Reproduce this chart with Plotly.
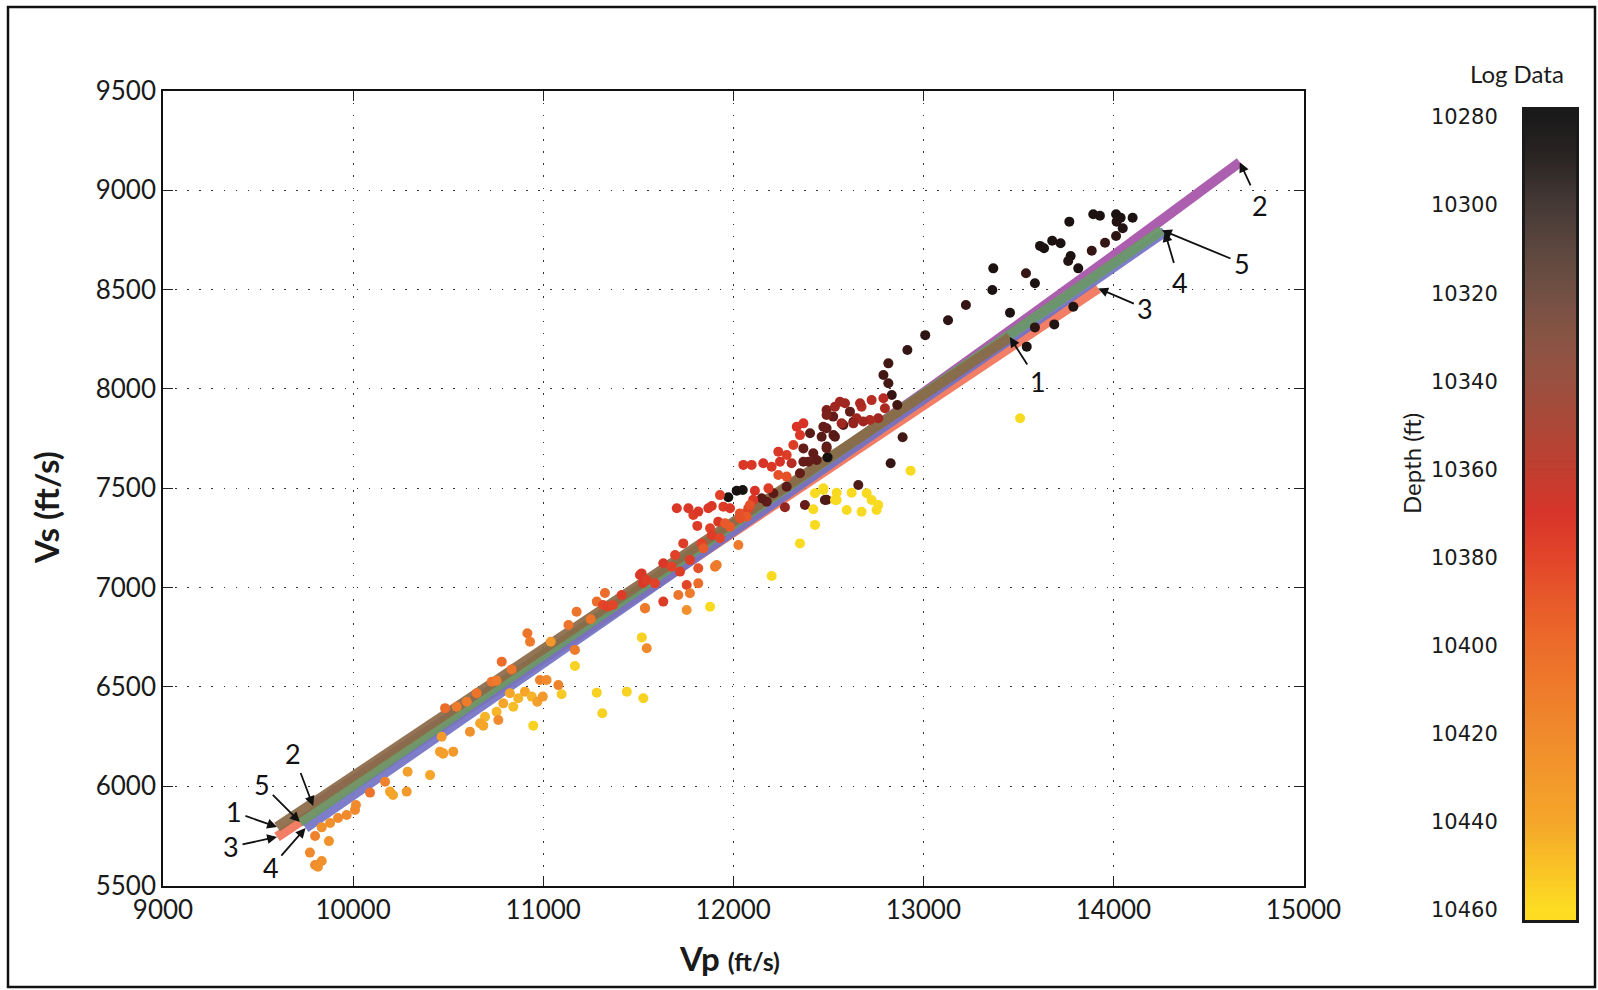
import numpy as np
import plotly.graph_objects as go

W, H = 1598, 990

# ---------------- data ----------------
vp_pts = [10484, 10466, 10457, 10473, 10527, 10405, 10287, 10282, 10210, 10194, 10168, 10089, 10015, 10010, 9966, 9921,
          9879, 9835, 9800, 9873, 9773, 9835, 9800, 9815,
          11509, 11525, 11413, 11325, 11282, 11315, 11341, 11367, 11176, 11250, 11133, 11536, 11545, 11519, 10917, 10931,
          11040, 11167, 11167, 10782, 10834, 10729, 10755, 10983, 11018, 11080, 11097, 11282, 11440, 11527, 11311, 10948,
          10825, 10869, 10904, 10940, 10969, 10998, 10790, 10843, 10755, 10764, 10694, 10668, 10685, 10615, 10650, 10598,
          10545, 10475,
          12334, 12369, 12351, 12404, 12465, 12474, 12527, 12579, 12632, 12316, 12281, 12237, 12369, 12421, 12395, 12439,
          12369, 12491, 12496, 12246, 12307, 12351, 12053, 12097, 12158, 12202, 12237, 12281, 12281, 12211, 12176, 12150,
          12185, 11974, 12018, 12050, 12114, 12105, 11930, 11887, 11948, 11983, 12035, 12079, 11703, 11764, 11790, 11816,
          11869, 11811, 11878, 11921, 11887, 11930, 11957, 11983, 12088, 12070, 12035, 12272, 12377, 12491, 12658, 12430,
          12474, 12544, 12623, 12544, 12597, 12421, 12430, 12351, 12202, 11878, 11737, 11834, 11843, 11904, 11913, 12027,
          11694, 11632, 11676, 11772, 11816, 11720, 11755, 11816, 11518, 11544, 11588, 11632, 11711, 11772, 11755, 11536,
          12916, 12816, 12790, 12816, 12834, 12863, 13544, 13509, 12491, 12535, 12561, 12588, 12614, 12649, 12675, 12667,
          12728, 12790, 12798, 12763, 12719, 12684, 12632, 12570, 12526, 12491, 12491, 12535, 12491, 12474, 12482, 12891,
          12828, 12933, 12535, 12702, 12728, 12763, 12754, 12675,
          13768, 13894, 13929, 14014, 14038, 14017, 14049, 14101, 14014, 13956, 13886, 13678, 13722, 13614, 13635, 13775,
          13762, 13815, 13368, 13363, 13540, 13587, 13224, 13456, 13789, 13689, 13587, 13010, 13130]

vs_pts = [6393, 6249, 6174, 6164, 6174, 6056, 6073, 5973, 5956, 5973, 6023, 5968, 5906, 5881, 5855, 5840,
          5815, 5793, 5750, 5724, 5666, 5624, 5604, 5595,
          7063, 7023, 6962, 6972, 6929, 6912, 6904, 6912, 6878, 6840, 6811, 6897, 6694, 6749, 6770, 6727,
          6727, 6686, 6605, 6627, 6588, 6526, 6531, 6535, 6535, 6509, 6463, 6471, 6476, 6443, 6367, 6305,
          6468, 6443, 6476, 6451, 6425, 6451, 6417, 6400, 6375, 6333, 6350, 6317, 6305, 6274, 6468, 6425,
          6400, 6166,
          7809, 7826, 7767, 7776, 7759, 7809, 7767, 7818, 7834, 7717, 7667, 7683, 7700, 7675, 7633, 7642,
          7633, 7709, 7655, 7633, 7625, 7575, 7617, 7617, 7625, 7608, 7566, 7558, 7507, 7474, 7432, 7449,
          7499, 7454, 7487, 7491, 7487, 7441, 7465, 7410, 7407, 7399, 7373, 7399, 7399, 7399, 7365, 7382,
          7399, 7310, 7298, 7331, 7264, 7248, 7323, 7306, 7415, 7356, 7348, 7404, 7415, 7441, 7516, 7474,
          7491, 7477, 7477, 7440, 7390, 7394, 7315, 7222, 7058, 6903, 7222, 7222, 7197, 7105, 7113, 7214,
          7164, 7122, 7105, 7139, 7097, 7080, 7013, 7021, 7071, 7038, 7021, 6929, 6962, 6971, 6887, 6895,
          8195, 8128, 8069, 8028, 7969, 7918, 8212, 7852, 7893, 7910, 7935, 7927, 7885, 7852, 7910, 7927,
          7943, 7952, 7902, 7852, 7843, 7835, 7826, 7826, 7860, 7868, 7801, 7759, 7701, 7499, 7440, 7756,
          7625, 7588, 7440, 7474, 7440, 7415, 7390, 7381,
          8841, 8878, 8871, 8878, 8861, 8841, 8808, 8861, 8769, 8735, 8695, 8745, 8732, 8719, 8707, 8668,
          8643, 8606, 8606, 8497, 8581, 8531, 8422, 8383, 8413, 8324, 8309, 8270, 8345]

depth_pts = [10400, 10430, 10435, 10435, 10430, 10440, 10435, 10430, 10440, 10440, 10415, 10405, 10420, 10420, 10420, 10420,
             10425, 10425, 10415, 10425, 10420, 10425, 10420, 10425,
             10372, 10372, 10375, 10400, 10400, 10380, 10378, 10380, 10405, 10405, 10405, 10410, 10420, 10455, 10405, 10410,
             10430, 10410, 10455, 10400, 10405, 10405, 10410, 10415, 10420, 10415, 10452, 10455, 10455, 10455, 10455, 10455,
             10440, 10445, 10440, 10445, 10435, 10430, 10440, 10448, 10445, 10420, 10445, 10440, 10440, 10425, 10405, 10410,
             10410, 10435,
             10370, 10370, 10372, 10315, 10315, 10320, 10315, 10315, 10310, 10375, 10375, 10372, 10320, 10318, 10320, 10318,
             10320, 10315, 10282, 10370, 10355, 10320, 10372, 10372, 10370, 10372, 10385, 10385, 10315, 10315, 10318, 10315,
             10375, 10282, 10282, 10282, 10370, 10372, 10378, 10372, 10375, 10372, 10385, 10380, 10372, 10372, 10375, 10372,
             10372, 10375, 10378, 10372, 10375, 10380, 10390, 10390, 10385, 10390, 10385, 10340, 10320, 10315, 10310, 10458,
             10458, 10458, 10458, 10458, 10458, 10458, 10458, 10458, 10458, 10458, 10375, 10378, 10390, 10410, 10410, 10410,
             10378, 10372, 10378, 10375, 10385, 10375, 10380, 10400, 10372, 10375, 10378, 10375, 10405, 10410, 10425, 10410,
             10300, 10305, 10305, 10305, 10300, 10305, 10285, 10458, 10330, 10345, 10345, 10345, 10320, 10345, 10355, 10350,
             10355, 10355, 10350, 10345, 10350, 10345, 10340, 10345, 10320, 10330, 10320, 10315, 10320, 10458, 10310, 10305,
             10300, 10458, 10458, 10458, 10458, 10458, 10458, 10458,
             10285, 10285, 10285, 10285, 10285, 10290, 10290, 10285, 10295, 10300, 10300, 10285, 10285, 10285, 10285, 10285,
             10290, 10285, 10285, 10285, 10300, 10285, 10300, 10285, 10290, 10290, 10295, 10295, 10295]

# fitted relations (labels 1..5); vertices
line_vp = {"1": [9600, 13455],
           "2": [9790, 11000, 12000, 13000, 14000, 14665],
           "3": [9600, 13920],
           "4": [9750, 14270],
           "5": [9720, 14255]}
line_vs = {"1": [5795, 8260],
           "2": [5900, 6660, 7310, 7980, 8670, 9140],
           "3": [5745, 8505],
           "4": [5790, 8790],
           "5": [5820, 8798]}
line_colors = {"1": "#8a6a48", "2": "#a552a8", "3": "#f07458", "4": "#7272c6", "5": "#6a9868"}
draw_order = ["2", "3", "4", "5", "1"]

x_ticks = [9000, 10000, 11000, 12000, 13000, 14000, 15000]
y_ticks = [5500, 6000, 6500, 7000, 7500, 8000, 8500, 9000, 9500]
cb_ticks = [10280, 10300, 10320, 10340, 10360, 10380, 10400, 10420, 10440, 10460]
depth_min, depth_max = 10280, 10460

# colour bar appearance
bar_stops = [(10280, "#1a1a1a"), (10290, "#2c2624"), (10300, "#463a36"), (10310, "#5c463e"),
             (10320, "#725044"), (10330, "#885444"), (10340, "#9a5040"), (10350, "#ac4838"),
             (10360, "#c03e30"), (10370, "#d8352a"), (10380, "#e2452a"), (10390, "#e85a2a"),
             (10400, "#ec6c2a"), (10420, "#f08a2c"), (10440, "#f5a62a"), (10460, "#fddc22")]
# marker appearance (points render redder than the bar in the original)
pt_stops = [(10280, "#141010"), (10290, "#221412"), (10300, "#361614"), (10310, "#4e1a16"),
            (10320, "#641c18"), (10330, "#7c201a"), (10340, "#94241e"), (10350, "#ac2a22"),
            (10360, "#c42e24"), (10370, "#d83326"), (10380, "#e24528"), (10390, "#e85a2a"),
            (10400, "#ec6c2a"), (10420, "#f08a2c"), (10440, "#f5a62a"), (10460, "#f8e020")]


def to_scale(stops):
    return [[(d - depth_min) / (depth_max - depth_min), c] for d, c in stops]


# ---------------- layout geometry ----------------
px_l, px_r, px_t, px_b = 163, 1303.5, 90.7, 885.6
xdom = [px_l / W, px_r / W]
ydom = [1 - px_b / H, 1 - px_t / H]
cb_l, cb_r, cb_t, cb_b = 1525, 1576, 110, 920
cb_range = [10462.3, 10278.4]

fig = go.Figure()

for name in draw_order:
    fig.add_trace(go.Scatter(x=line_vp[name], y=line_vs[name], mode="lines",
                             line=dict(color=line_colors[name], width=10, shape="spline", smoothing=0.6),
                             opacity=0.92, showlegend=False, hoverinfo="skip"))

fig.add_trace(go.Scatter(x=vp_pts, y=vs_pts, mode="markers",
                         marker=dict(size=10, color=depth_pts, colorscale=to_scale(pt_stops),
                                     cmin=depth_min, cmax=depth_max, showscale=False, line=dict(width=0)),
                         showlegend=False))

# colour bar as heatmap on its own axes (depth increases downward, labels on the left)
cb_vals = np.arange(10278.0, 10463.0, 0.5)
fig.add_trace(go.Heatmap(x=[0], y=cb_vals, z=[[v] for v in cb_vals], xaxis="x2", yaxis="y2",
                         colorscale=to_scale(bar_stops), zmin=depth_min, zmax=depth_max, showscale=False,
                         hoverinfo="skip"))

grid = dict(showgrid=True, gridcolor="#333333", griddash="1.6px,10.5px", gridwidth=1.4)
axcommon = dict(showline=True, linecolor="#111111", linewidth=1.6, mirror="allticks", ticks="inside",
                ticklen=10, tickwidth=1.2, tickcolor="#222222", zeroline=False, automargin=False,
                tickformat="d", tickfont=dict(family="Lato", size=26, color="#1a1a1a"), **grid)

annotations = []
# lower-left labels point to line starts, upper-right labels point to line ends
ll_off = {"1": (-43, -15), "2": (-20, -53), "3": (-46, 10), "4": (-35, 40), "5": (-38, -38)}
ur_off = {"1": (28, 44), "2": (20, 43), "3": (47, 20), "4": (15, 51), "5": (80, 33)}
for name in line_vp:
    ends = [(line_vp[name][0], line_vs[name][0], ll_off[name]),
            (line_vp[name][-1], line_vs[name][-1], ur_off[name])]
    for (xx, yy, off) in ends:
        annotations.append(dict(x=xx, y=yy, xref="x", yref="y", text=name, showarrow=True,
                                ax=off[0], ay=off[1], arrowhead=2, arrowsize=1.1, arrowwidth=1.8,
                                arrowcolor="#111111", standoff=0, startstandoff=2,
                                font=dict(family="Lato", size=27, color="#111111")))

annotations += [
    dict(text="<b>Vp <span style='font-size:25px'>(ft/s)</span></b>", x=729 / W, y=1 - 958 / H,
         xref="paper", yref="paper", showarrow=False, xanchor="center", yanchor="middle",
         font=dict(family="Lato", size=33, color="#1a1a1a")),
    dict(text="<b>Vs (ft/s)</b>", x=46 / W, y=1 - 508 / H, xref="paper", yref="paper", showarrow=False,
         textangle=-90, xanchor="center", yanchor="middle", font=dict(family="Lato", size=33, color="#1a1a1a")),
    dict(text="Depth (ft)", x=1411 / W, y=1 - 464 / H, xref="paper", yref="paper", showarrow=False,
         textangle=-90, xanchor="center", yanchor="middle", font=dict(family="Lato", size=24, color="#1a1a1a")),
    dict(text="Log Data", x=1517 / W, y=1 - 73 / H, xref="paper", yref="paper", showarrow=False,
         xanchor="center", yanchor="middle", font=dict(family="Lato", size=24, color="#1a1a1a")),
]

fig.update_layout(
    width=W, height=H, margin=dict(l=0, r=0, t=0, b=0),
    paper_bgcolor="white", plot_bgcolor="white", showlegend=False,
    xaxis=dict(domain=xdom, range=[9000, 15000], tickvals=x_ticks, **axcommon),
    yaxis=dict(domain=ydom, range=[5500, 9500], tickvals=y_ticks, **axcommon),
    xaxis2=dict(domain=[cb_l / W, cb_r / W], anchor="y2", range=[-0.5, 0.5], showticklabels=False,
                ticks="", showgrid=False, zeroline=False, showline=True, mirror=True,
                linecolor="#1a1a1a", linewidth=3, automargin=False),
    yaxis2=dict(domain=[1 - cb_b / H, 1 - cb_t / H], anchor="x2", range=cb_range, tickvals=cb_ticks,
                tickformat="d", side="left", ticks="", ticklabelstandoff=20, showgrid=False, zeroline=False,
                showline=True, mirror=True, linecolor="#1a1a1a", linewidth=3, automargin=False,
                tickfont=dict(family="DejaVu Sans", size=21, color="#1a1a1a")),
    annotations=annotations,
    shapes=[dict(type="rect", xref="paper", yref="paper", x0=8 / W, x1=1595 / W, y0=1 - 987 / H,
                 y1=1 - 7 / H, line=dict(color="#111111", width=2.5), fillcolor="rgba(0,0,0,0)")],
)

fig.write_html("out.html")
